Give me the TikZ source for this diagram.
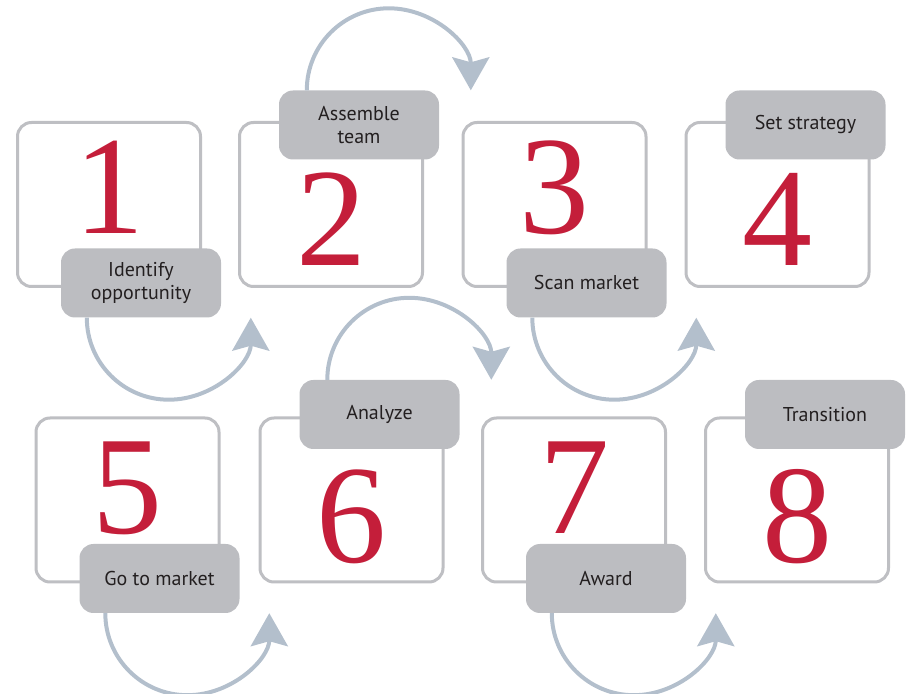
\documentclass[tikz,border=0pt]{standalone}
\usepackage{fontspec}
\setsansfont{PT Sans}
\newfontfamily\digitfont{Liberation Serif}
\usetikzlibrary{arrows.meta}

\definecolor{frameclr}{RGB}{190,191,195}
\definecolor{tagclr}{RGB}{188,189,193}
\definecolor{digitclr}{RGB}{196,30,58}
\definecolor{flowclr}{RGB}{179,191,204}
\definecolor{inkclr}{RGB}{35,31,32}

\tikzset{
  card/.style={draw=frameclr, line width=3pt, rounded corners=14pt, fill=white,
               minimum width=183pt, minimum height=164pt},
  tag/.style={fill=tagclr, rounded corners=14pt, minimum width=160pt, minimum height=69pt,
              align=center, text=inkclr, font=\sffamily\fontsize{20}{23.5}\selectfont},
  numeral/.style={text=digitclr, anchor=base, inner sep=0pt, font=\digitfont\fontsize{140}{140}\selectfont},
  flow/.style={draw=flowclr, line width=4pt, -{Stealth[length=33pt,width=37pt,inset=5pt]}}
}

\begin{document}
\begin{tikzpicture}[x=1pt,y=1pt]
  \useasboundingbox (0,0) rectangle (906,694);
  % cards, with the step number high or low in the card
  \foreach \n/\x/\y/\dy in {1/109/489.5/-113, 2/331/489.5/-145, 3/554.5/489.5/-113, 4/777.5/489.5/-145,
                            5/127.5/194/-117, 6/351.5/194/-146, 7/574/194/-117, 8/797/194/-146}
  {
    \node [card] (b\n) at (\x,\y) {};
    \node [numeral] (d\n) at ([yshift=\dy]b\n.north) {\n};
  }
  % tags sitting on the bottom or top edge
  \foreach \n/\txt in {1/{Identify\\opportunity}, 3/{Scan market}, 5/{Go to market}, 7/{Award}}
    \node [tag] (l\n) at ([xshift=32pt,yshift=5pt]b\n.south) {\txt};
  \foreach \n/\dy/\txt in {2/-4/{Assemble\\team}, 4/-4/{Set strategy}, 6/2/{Analyze}, 8/2/{Transition}}
    \node [tag] (l\n) at ([xshift=28pt,yshift=\dy]b\n.north) {\txt};
  % loops from one tag to the next card
  \foreach \n in {1,3,5,7}
    \draw [flow] ([xshift=26pt]l\n.south west) arc [start angle=180, end angle=360, radius=82pt];
  \foreach \n in {2,6}
    \draw [flow] ([xshift=28pt]l\n.north west) arc [start angle=180, end angle=0, radius=82pt];
\end{tikzpicture}
\end{document}
